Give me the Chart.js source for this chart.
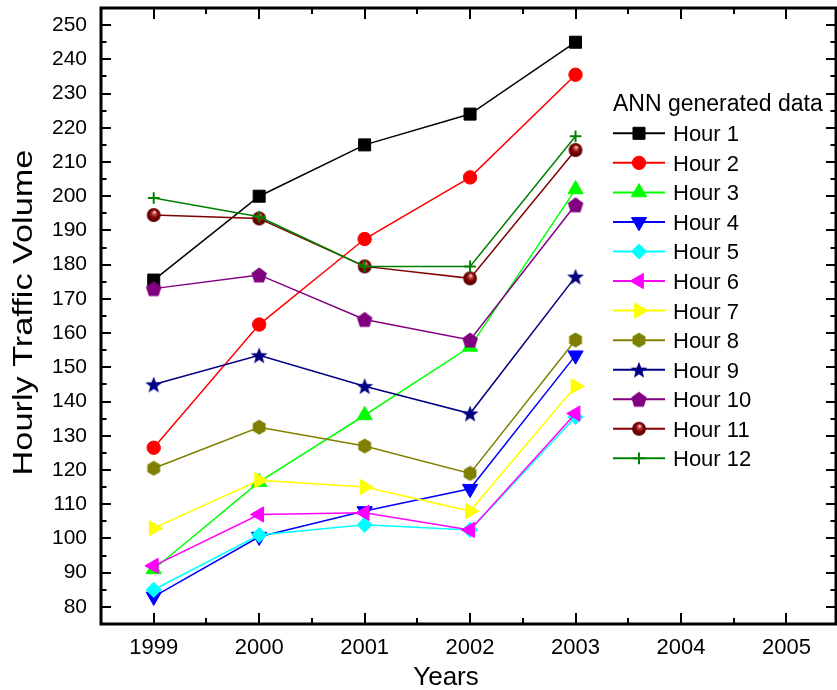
<!DOCTYPE html>
<html>
<head>
<meta charset="utf-8">
<script src="https://cdn.jsdelivr.net/npm/chart.js@4/dist/chart.umd.min.js"></script>
<style>
html,body{margin:0;padding:0;background:#fff;}
#wrap{width:837px;height:690px;position:relative;}
</style>
</head>
<body>
<div id="wrap"><canvas id="c" width="837" height="690"></canvas></div>
<script>
// ---------- data ----------
const years = [1999, 2000, 2001, 2002, 2003];
const xTickValues = [1999, 2000, 2001, 2002, 2003, 2004, 2005];
const yTickValues = [80, 90, 100, 110, 120, 130, 140, 150, 160, 170, 180, 190, 200, 210, 220, 230, 240, 250];
const legendTitle = 'ANN generated data';
const xTitle = 'Years';
const yTitle = 'Hourly Traffic Volume';
const seriesNames = ['Hour 1','Hour 2','Hour 3','Hour 4','Hour 5','Hour 6','Hour 7','Hour 8','Hour 9','Hour 10','Hour 11','Hour 12'];
const hour1  = [175.5, 200, 215, 224, 245];
const hour2  = [126.5, 162.5, 187.5, 205.5, 235.5];
const hour3  = [91, 116.5, 136, 156, 202];
const hour4  = [83, 100.5, 108, 114.5, 153.5];
const hour5  = [85, 101, 104, 102.5, 135.5];
const hour6  = [92, 107, 107.5, 102.5, 136.5];
const hour7  = [103, 117, 115, 108, 144.5];
const hour8  = [120.5, 132.5, 127, 119, 158];
const hour9  = [145, 153.5, 144.5, 136.5, 176.5];
const hour10 = [173, 177, 164, 158, 197.5];
const hour11 = [194.5, 193.5, 179.5, 176, 213.5];
const hour12 = [199.5, 194, 179.5, 179.5, 217.5];
const seriesValues = [hour1, hour2, hour3, hour4, hour5, hour6, hour7, hour8, hour9, hour10, hour11, hour12];

// ---------- styles ----------
const FONT = "'Liberation Sans', Arial, sans-serif";
const seriesColors = ['#000000','#FF0000','#00FF00','#0000FF','#00FFFF','#FF00FF','#FFFF00','#808000','#000080','#800080','#800000','#008000'];

function makeImg(size, draw){
  const c = document.createElement('canvas');
  c.width = size; c.height = size;
  const g = c.getContext('2d');
  draw(g, size/2);
  return c;
}
function poly(g, cx, cy, r, n, start){
  g.beginPath();
  for (let k=0;k<n;k++){ const a = start + k*2*Math.PI/n; g.lineTo(cx + r*Math.cos(a), cy + r*Math.sin(a)); }
  g.closePath();
}
const hexImg = makeImg(16, (g,c)=>{ g.fillStyle='#808000'; poly(g,c,c,7.4,6,-Math.PI/2); g.fill(); });
const pentImg = makeImg(18, (g,c)=>{ g.fillStyle='#800080'; poly(g,c,c+0.8,8.2,5,-Math.PI/2); g.fill(); });
const starImg = makeImg(20, (g,c)=>{
  g.fillStyle='#000080'; g.beginPath();
  for (let k=0;k<10;k++){ const a=-Math.PI/2+k*Math.PI/5; const r = k%2===0 ? 8.8 : 3.7; g.lineTo(c+r*Math.cos(a), c+0.8+r*Math.sin(a)); }
  g.closePath(); g.fill();
});
const ballImg = makeImg(16, (g,c)=>{
  const gr = g.createRadialGradient(c+0.8, c-3, 0.3, c, c, 7.2);
  gr.addColorStop(0, '#ffe8e8'); gr.addColorStop(0.22, '#c04a4a'); gr.addColorStop(0.55, '#800000'); gr.addColorStop(1, '#500000');
  g.fillStyle = gr; g.beginPath(); g.arc(c, c, 6.9, 0, Math.PI*2); g.fill();
});

const markerStyles = [
  {pointStyle:'rect', radius:8.5, rotation:0},
  {pointStyle:'circle', radius:6.7, rotation:0},
  {pointStyle:'triangle', radius:8.8, rotation:0},
  {pointStyle:'triangle', radius:8.8, rotation:180},
  {pointStyle:'rectRot', radius:7.6, rotation:0},
  {pointStyle:'triangle', radius:8.8, rotation:270},
  {pointStyle:'triangle', radius:8.8, rotation:90},
  {pointStyle:hexImg, radius:7, rotation:0},
  {pointStyle:starImg, radius:7, rotation:0},
  {pointStyle:pentImg, radius:7, rotation:0},
  {pointStyle:ballImg, radius:7, rotation:0},
  {pointStyle:'cross', radius:5.8, rotation:0}
];

const datasets = seriesNames.map((name, i) => ({
  label: name,
  data: years.map((yr, j) => ({x: yr, y: seriesValues[i][j]})),
  borderColor: seriesColors[i],
  backgroundColor: seriesColors[i],
  borderWidth: 1.5,
  pointStyle: markerStyles[i].pointStyle,
  pointRadius: markerStyles[i].radius,
  pointRotation: markerStyles[i].rotation,
  pointBackgroundColor: seriesColors[i],
  pointBorderColor: seriesColors[i],
  pointBorderWidth: i === 11 ? 2 : 1,
  tension: 0,
  clip: false,
  order: seriesNames.length - i
}));

// ---------- frame, ticks, titles, legend ----------
const decorPlugin = {
  id: 'decor',
  afterDraw(chart){
    const ctx = chart.ctx, a = chart.chartArea;
    const xs = chart.scales.x, ys = chart.scales.y;
    ctx.save();
    ctx.strokeStyle = '#000';
    // ticks
    ctx.lineWidth = 2;
    ctx.beginPath();
    yTickValues.forEach(v => {
      const p = Math.round(ys.getPixelForValue(v));
      ctx.moveTo(a.left, p); ctx.lineTo(a.left + 10, p);
      ctx.moveTo(a.right, p); ctx.lineTo(a.right - 10, p);
      const pm = Math.round(ys.getPixelForValue(v + 5));
      if (v + 5 < ys.max) {
        ctx.moveTo(a.left, pm); ctx.lineTo(a.left + 5.5, pm);
        ctx.moveTo(a.right, pm); ctx.lineTo(a.right - 5.5, pm);
      }
    });
    xTickValues.forEach(v => {
      const p = Math.round(xs.getPixelForValue(v));
      ctx.moveTo(p, a.bottom); ctx.lineTo(p, a.bottom - 11);
      ctx.moveTo(p, a.top); ctx.lineTo(p, a.top + 11);
      if (v + 0.5 < xs.max) {
        const pm = Math.round(xs.getPixelForValue(v + 0.5));
        ctx.moveTo(pm, a.bottom); ctx.lineTo(pm, a.bottom - 6);
        ctx.moveTo(pm, a.top); ctx.lineTo(pm, a.top + 6);
      }
    });
    ctx.stroke();
    // frame
    ctx.lineWidth = 3;
    ctx.strokeRect(a.left, a.top, a.right - a.left, a.bottom - a.top);

    // axis titles
    ctx.fillStyle = '#000';
    ctx.font = '26px ' + FONT;
    ctx.textAlign = 'center';
    ctx.textBaseline = 'alphabetic';
    ctx.fillText(xTitle, 446, 685);
    ctx.save();
    ctx.translate(25, 312.5);
    ctx.rotate(-Math.PI/2);
    ctx.scale(1.27, 1);
    ctx.font = '27px ' + FONT;
    ctx.textBaseline = 'middle';
    ctx.fillText(yTitle, 0, 0);
    ctx.restore();

    // legend
    ctx.textAlign = 'left';
    ctx.textBaseline = 'alphabetic';
    ctx.font = '23px ' + FONT;
    ctx.fillText(legendTitle, 613, 111);
    ctx.font = '22px ' + FONT;
    chart.data.datasets.forEach((ds, i) => {
      const y = 133.3 + i * 29.55;
      ctx.strokeStyle = ds.borderColor;
      ctx.lineWidth = 2;
      ctx.beginPath(); ctx.moveTo(613, y); ctx.lineTo(665, y); ctx.stroke();
      ctx.fillStyle = ds.pointBackgroundColor;
      ctx.strokeStyle = ds.pointBorderColor;
      ctx.lineWidth = ds.pointBorderWidth;
      Chart.helpers.drawPoint(ctx, {pointStyle: ds.pointStyle, rotation: ds.pointRotation, radius: ds.pointRadius, borderWidth: ds.pointBorderWidth}, 639, y);
      ctx.fillStyle = '#000';
      ctx.fillText(ds.label, 673, y + 7.9);
    });
    ctx.restore();
  }
};

new Chart(document.getElementById('c'), {
  type: 'line',
  data: { datasets },
  options: {
    responsive: false,
    animation: false,
    events: [],
    layout: { autoPadding: false, padding: { top: 8, right: 1, left: 0, bottom: 0 } },
    plugins: { legend: { display: false }, title: { display: false }, tooltip: { enabled: false } },
    scales: {
      x: {
        type: 'linear',
        min: 1998.5,
        max: 2005.47,
        afterFit: s => { s.height = 66; s.paddingLeft = 0; s.paddingRight = 0; s.paddingTop = 0; s.paddingBottom = 0; },
        afterBuildTicks: s => { s.ticks = xTickValues.map(v => ({value: v})); },
        grid: { display: false, drawTicks: false, tickLength: 0 },
        border: { display: false },
        ticks: { color: '#000', padding: 11, font: { family: FONT, size: 22 }, maxRotation: 0, autoSkip: false, callback: v => String(v) }
      },
      y: {
        type: 'linear',
        min: 75,
        max: 255,
        afterFit: s => { s.width = 101; s.paddingLeft = 0; s.paddingRight = 0; s.paddingTop = 0; s.paddingBottom = 0; },
        afterBuildTicks: s => { s.ticks = yTickValues.map(v => ({value: v})); },
        grid: { display: false, drawTicks: false, tickLength: 0 },
        border: { display: false },
        ticks: { color: '#000', padding: 14, font: { family: FONT, size: 21 }, autoSkip: false, callback: v => String(v) }
      }
    }
  },
  plugins: [decorPlugin]
});
</script>
</body>
</html>
